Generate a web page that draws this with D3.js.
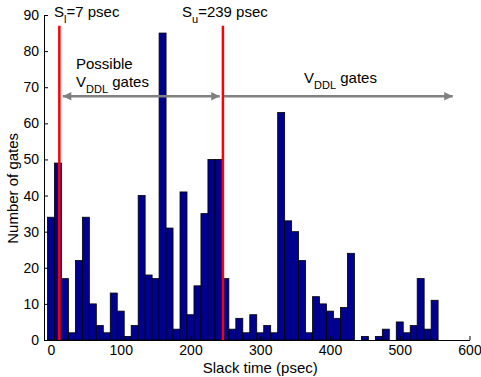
<!DOCTYPE html>
<html>
<head>
<meta charset="utf-8">
<script src="https://cdn.jsdelivr.net/npm/d3@7"></script>
<style>
  body { margin: 0; background: #fff; }
  text { font-family: "Liberation Sans", Arial, Helvetica, sans-serif; }
</style>
</head>
<body>
<div id="chart"></div>
<script>
// histogram bins (psec) and gate counts
const binCenters = [0, 10, 20, 30, 40, 50, 60, 70, 80, 90,
  100, 110, 120, 130, 140, 150, 160, 170, 180, 190,
  200, 210, 220, 230, 240, 250, 260, 270, 280, 290,
  300, 310, 320, 330, 340, 350, 360, 370, 380, 390,
  400, 410, 420, 430, 440, 450, 460, 470, 480, 490,
  500, 510, 520, 530, 540, 550]
const gateCounts = [34, 49, 17, 2, 22, 34, 10, 4, 2, 13,
  8, 1, 4, 40, 18, 17, 85, 31, 3, 41,
  7, 15, 35, 50, 50, 17, 3, 6, 2, 7,
  2, 4, 2, 63, 33, 30, 22, 2, 12, 10,
  8, 6, 9, 24, 0, 1, 0, 1, 3, 0,
  5, 2, 4, 17, 3, 11]
const binWidth = 10

const xTicks = [0, 100, 200, 300, 400, 500, 600]
const yTicks = [0, 10, 20, 30, 40, 50, 60, 70, 80, 90]

// slack thresholds: where the red lines sit on the x axis, and their labels
const thresholdX = [12, 246.5]
const thresholdTop = 87
const thresholdLabels = [["S", "l", "=7 psec"], ["S", "u", "=239 psec"]]

// arrows (x range in psec) at a y value
const arrowY = 67.5
const possibleArrow = [17, 242]
const vddlArrow = [248, 576]

const width = 481, height = 377
const svg = d3.select("#chart").append("svg")
  .attr("width", width)
  .attr("height", height)

const xScale = d3.scaleLinear().domain([-10, 600]).range([44, 469.5])
const yScale = d3.scaleLinear().domain([0, 90]).range([340, 15])

// bars
svg.selectAll("rect.bar")
  .data(binCenters.map((c, i) => ({x: c, y: gateCounts[i]})))
  .enter()
  .append("rect")
  .attr("class", "bar")
  .attr("x", d => xScale(d.x - binWidth / 2))
  .attr("width", d => xScale(d.x + binWidth / 2) - xScale(d.x - binWidth / 2))
  .attr("y", d => yScale(d.y))
  .attr("height", d => yScale(0) - yScale(d.y))
  .style("fill", "#00008f")
  .style("stroke", "#000")
  .style("stroke-width", 0.8)

// bottom axis, ticks pointing in
const xAxis = svg.append("g")
  .attr("transform", `translate(0, ${yScale(0)})`)
  .call(d3.axisBottom(xScale).tickValues(xTicks).tickSizeInner(-4).tickSizeOuter(0).tickPadding(5))
xAxis.selectAll("text").style("font-size", "14px").style("fill", "#000")
  .attr("font-family", null)

// left axis
const yAxis = svg.append("g")
  .attr("transform", `translate(${xScale(-10)}, 0)`)
  .call(d3.axisLeft(yScale).tickValues(yTicks).tickSizeInner(-4).tickSizeOuter(0).tickPadding(5))
yAxis.selectAll("text").style("font-size", "14px").style("fill", "#000")
  .attr("font-family", null)

svg.selectAll(".domain").style("stroke", "#000")
svg.selectAll(".tick line").style("stroke", "#000")

// red threshold lines
svg.selectAll("line.thresh")
  .data(thresholdX)
  .enter()
  .append("line")
  .attr("class", "thresh")
  .attr("x1", d => xScale(d))
  .attr("x2", d => xScale(d))
  .attr("y1", yScale(0))
  .attr("y2", yScale(thresholdTop))
  .style("stroke", "#ff0000")
  .style("stroke-width", 2.5)

// arrow heads
const defs = svg.append("defs")
defs.append("marker")
  .attr("id", "head")
  .attr("viewBox", "0 0 10 10")
  .attr("refX", 10).attr("refY", 5)
  .attr("markerWidth", 4).attr("markerHeight", 3.4)
  .attr("markerUnits", "strokeWidth")
  .attr("orient", "auto-start-reverse")
  .append("path")
  .attr("d", "M0,0 L10,5 L0,10 z")
  .style("fill", "#808080")

svg.append("line")
  .attr("x1", xScale(possibleArrow[0])).attr("x2", xScale(possibleArrow[1]))
  .attr("y1", yScale(arrowY)).attr("y2", yScale(arrowY))
  .style("stroke", "#808080").style("stroke-width", 2.5)
  .attr("marker-start", "url(#head)")
  .attr("marker-end", "url(#head)")

svg.append("line")
  .attr("x1", xScale(vddlArrow[0])).attr("x2", xScale(vddlArrow[1]))
  .attr("y1", yScale(arrowY)).attr("y2", yScale(arrowY))
  .style("stroke", "#808080").style("stroke-width", 2.5)
  .attr("marker-end", "url(#head)")

// text with a subscript part
function subText(x, y, parts) {
  const t = svg.append("text")
    .attr("x", x).attr("y", y)
    .style("font-size", "15px")
  t.append("tspan").text(parts[0])
  t.append("tspan").attr("dy", 6).style("font-size", "11px").text(parts[1])
  t.append("tspan").attr("dy", -6).text(parts[2])
  return t
}

// threshold labels
subText(54, 17, thresholdLabels[0])
subText(182, 17, thresholdLabels[1])

// region labels
svg.append("text")
  .attr("x", 76).attr("y", 69)
  .style("font-size", "15px")
  .text("Possible")
subText(76, 87, ["V", "DDL", " gates"])
subText(304, 83, ["V", "DDL", " gates"])

// axis labels
svg.append("text")
  .attr("x", xScale(300)).attr("y", 373)
  .attr("text-anchor", "middle")
  .style("font-size", "15px")
  .text("Slack time (psec)")

svg.append("text")
  .attr("text-anchor", "middle")
  .attr("transform", `translate(18, ${yScale(42)}) rotate(-90)`)
  .style("font-size", "15px")
  .text("Number of gates")
</script>
</body>
</html>
